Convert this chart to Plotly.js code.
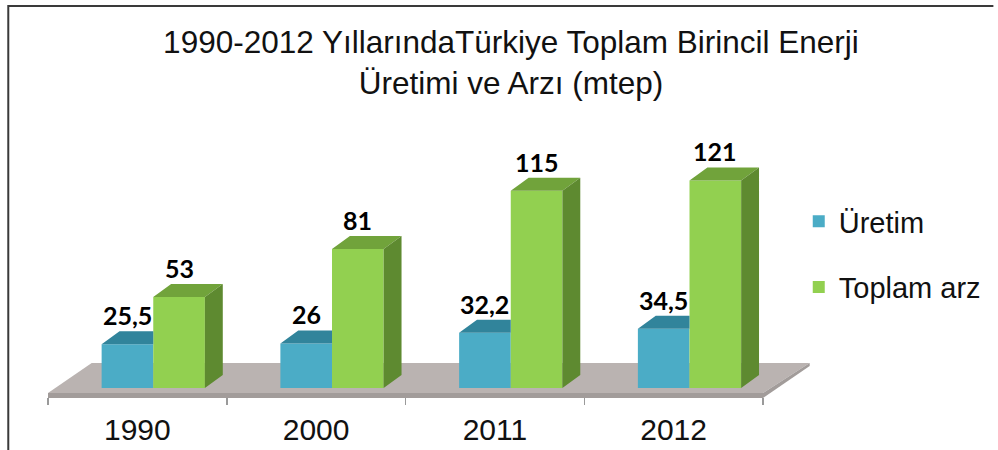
<!DOCTYPE html>
<html>
<head>
<meta charset="utf-8">
<script src="https://cdn.plot.ly/plotly-3.0.1.min.js"></script>
<style>html,body{margin:0;padding:0;background:#fff;}#chart{width:998px;height:450px;}</style>
</head>
<body>
<div id="chart"></div>
<script>
// ---- data ----
const years = ['1990', '2000', '2011', '2012'];
const uretim = [25.5, 26, 32.2, 34.5];
const toplamArz = [53, 81, 115, 121];
const seriesNames = ['Üretim', 'Toplam arz'];

// ---- geometry / style constants ----
const W = 998, H = 450;
const mL = 48, mR = 230, mT = 130, mB = 53;
const plotW = W - mL - mR, plotH = H - mT - mB;
const pxPerUnit = 1.715;               // vertical px per data unit
const zeroPx = 388;                     // pixel row of value 0
const yMin = -((H - mB) - zeroPx) / pxPerUnit;
const yMax = yMin + plotH / pxPerUnit;
const xPx = plotW / 4;                  // px per category
const barW = 52 / xPx;
const blueOff = -36 / xPx;
const greenOff = blueOff + barW;
const dx = 18 / xPx, dy = 13 / pxPerUnit;

const col = {
  blue: '#4BACC6', blueTop: '#31849B',
  green: '#92D050', greenTop: '#71A33B', greenSide: '#5E8A30',
  floor: '#BAB3B1', floorEdge: '#A29C9A'
};

const xs = years.map((_, i) => i);

// top / side faces built from the data values
function facesTopClipped(vals, off) {
  const X = [], Y = [];
  vals.forEach((v, i) => {
    const x0 = i + off, x1 = x0 + barW;
    X.push(x0, x1, x1, x0 + dx, x0, null);
    Y.push(v, v, v + dy, v + dy, v, null);
  });
  return {X, Y};
}
function facesTop(vals, off) {
  const X = [], Y = [];
  vals.forEach((v, i) => {
    const x0 = i + off, x1 = x0 + barW;
    X.push(x0, x1, x1 + dx, x0 + dx, x0, null);
    Y.push(v, v, v + dy, v + dy, v, null);
  });
  return {X, Y};
}
function facesSide(vals, off) {
  const X = [], Y = [];
  vals.forEach((v, i) => {
    const x1 = i + off + barW;
    X.push(x1, x1, x1 + dx, x1 + dx, x1, null);
    Y.push(0, v, v + dy, dy, 0, null);
  });
  return {X, Y};
}
const bt = facesTopClipped(uretim, blueOff);
const gt = facesTop(toplamArz, greenOff);
const gs = facesSide(toplamArz, greenOff);

function poly(f, color) {
  return {type: 'scatter', mode: 'lines', x: f.X, y: f.Y, fill: 'toself',
    fillcolor: color, line: {width: 0, color: color}, showlegend: false,
    hoverinfo: 'skip', connectgaps: false};
}

const data = [
  {type: 'bar', name: seriesNames[0], x: xs, y: uretim, offset: blueOff, width: barW,
   marker: {color: col.blue, line: {width: 0}}, legendgroup: 'a'},
  {type: 'bar', name: seriesNames[1], x: xs, y: toplamArz, offset: greenOff, width: barW,
   marker: {color: col.green, line: {width: 0}}, legendgroup: 'b'},
  poly(bt, col.blueTop),
  poly(gt, col.greenTop),
  poly(gs, col.greenSide)
];

const fmt = v => String(v).replace('.', ',');
const labelFont = {family: 'Lato, sans-serif', size: 25, color: '#000'};
const annotations = [];
uretim.forEach((v, i) => annotations.push({
  x: i + blueOff + barW / 2, y: v, yshift: 29, text: '<b>' + fmt(v) + '</b>',
  showarrow: false, font: labelFont
}));
toplamArz.forEach((v, i) => annotations.push({
  x: i + greenOff + barW / 2, y: v, yshift: 29, text: '<b>' + fmt(v) + '</b>',
  showarrow: false, font: labelFont
}));

// floor geometry (pixel rows/cols converted to paper so it is not clipped)
const px2paperX = p => (p - mL) / plotW;
const px2paperY = p => ((H - mB) - p) / plotH;
const FL = px2paperX(48), FR = px2paperX(768), BL = px2paperX(92), BR = px2paperX(815);
const YF = px2paperY(393), YB = px2paperY(363), YE = px2paperY(398), YBE = px2paperY(366);

const shapes = [
  {type: 'path', xref: 'paper', yref: 'paper', layer: 'below', line: {width: 0},
   fillcolor: col.floor,
   path: `M ${FL},${YF} L ${FR},${YF} L ${BR},${YB} L ${BL},${YB} Z`},
  {type: 'path', xref: 'paper', yref: 'paper', layer: 'below', line: {width: 0},
   fillcolor: col.floorEdge,
   path: `M ${FL},${YF} L ${FR},${YF} L ${FR},${YE} L ${FL},${YE} Z`},
  {type: 'path', xref: 'paper', yref: 'paper', layer: 'below', line: {width: 0},
   fillcolor: col.floorEdge,
   path: `M ${FR},${YF} L ${BR},${YB} L ${BR},${YBE} L ${FR},${YE} Z`},
  {type: 'path', xref: 'paper', yref: 'paper', layer: 'above',
   line: {width: 2, color: '#3a3a3a'},
   path: `M ${px2paperX(8)},${px2paperY(452)} L ${px2paperX(8)},${px2paperY(6)} L ${px2paperX(1000)},${px2paperY(6)}`}
];

const layout = {
  width: W, height: H, autosize: false,
  margin: {l: mL, r: mR, t: mT, b: mB, pad: 0},
  paper_bgcolor: '#fff', plot_bgcolor: 'rgba(0,0,0,0)',
  barmode: 'overlay',
  font: {family: 'Liberation Sans, Arial, sans-serif', color: '#000'},
  title: {
    text: '1990-2012 YıllarındaTürkiye Toplam Birincil Enerji<br>Üretimi ve Arzı (mtep)',
    font: {family: 'Liberation Sans, Arial, sans-serif', size: 31.5, color: '#111'},
    x: 0.512, xref: 'container', xanchor: 'center',
    y: 0.882, yref: 'container', yanchor: 'top'
  },
  xaxis: {
    range: [-0.5, 3.5], fixedrange: true,
    tickmode: 'array', tickvals: xs, ticktext: years, ticks: '',
    showgrid: false, zeroline: false, showline: false,
    tickfont: {size: 30, color: '#111'}, ticklabelstandoff: 12,
    minor: {tickmode: 'array', tickvals: [-0.5, 0.5, 1.5, 2.5, 3.5], ticks: 'outside',
            ticklen: 7, tickcolor: '#9a9a9a', tickwidth: 1.5, showgrid: false}
  },
  yaxis: {range: [yMin, yMax], visible: false, fixedrange: true},
  showlegend: true,
  legend: {
    x: px2paperX(804), xanchor: 'left', y: px2paperY(196), yanchor: 'top',
    font: {size: 29, color: '#111'}, traceorder: 'grouped', tracegroupgap: 25,
    bgcolor: 'rgba(0,0,0,0)'
  },
  shapes: shapes,
  annotations: annotations
};

Plotly.newPlot('chart', data, layout, {displayModeBar: false, staticPlot: true});
</script>
</body>
</html>
